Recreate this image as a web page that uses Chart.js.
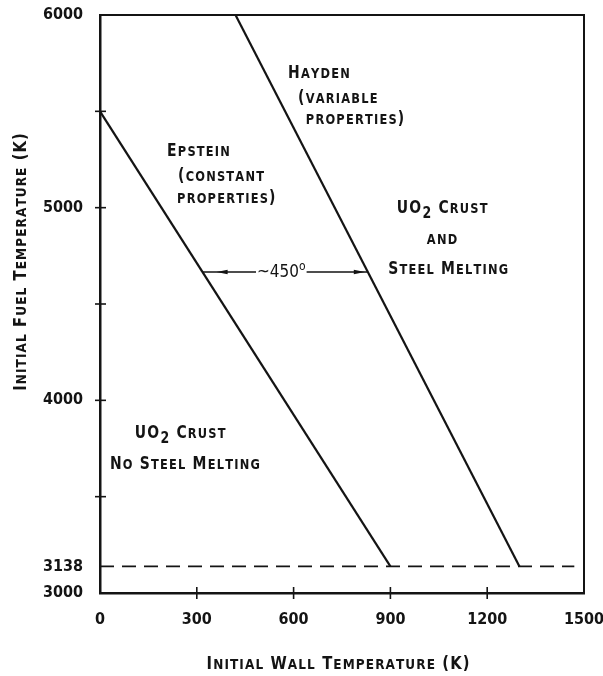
<!DOCTYPE html>
<html>
<head>
<meta charset="utf-8">
<script src="https://cdn.jsdelivr.net/npm/chart.js@4.4.1/dist/chart.umd.min.js"></script>
<style>
  html, body { margin: 0; padding: 0; background: #fff; }
  canvas { display: block; }
</style>
</head>
<body>
<canvas id="crustMap" width="603" height="676"></canvas>
<script>
// Initial wall temperature (K) -> initial fuel temperature (K)
const epsteinWall = [0, 900];
const epsteinFuel = [5500, 3138];
const haydenWall = [420, 1300];
const haydenFuel = [6000, 3138];
const meltWall = [0, 1470];
const meltFuel = [3138, 3138];

const xTickValues = [0, 300, 600, 900, 1200, 1500];
const yTickValues = [3000, 3138, 3500, 4000, 4500, 5000, 5500, 6000];
const yTickLabels = [3000, 3138, 4000, 5000, 6000];

// the "~450" gap marked between the two curves
const gapFuel = 4666;
const gapWall = [318, 830];

const INK = "#141414";
const LETTERING = "'DejaVu Sans', 'Liberation Sans', sans-serif";
const NUMBERS = "'DejaVu Sans Condensed', 'Liberation Sans Narrow', 'DejaVu Sans', sans-serif";

function toPoints(xs, ys) {
    return xs.map((x, i) => ({ x: x, y: ys[i] }));
}

// hand-lettered look: lowercase letters come out as small capitals, "_" marks a subscript
function drawCaps(ctx, text, x, y, big, opts) {
    opts = opts || {};
    const small = big * 0.82;
    const squeeze = opts.squeeze || 0.82;
    const gap = opts.gap === undefined ? 1.2 : opts.gap;
    const parts = [];
    for (let i = 0; i < text.length; i++) {
        let ch = text[i];
        if (ch === "_") {
            parts.push({ ch: text[++i], size: big * 0.9, dy: big * 0.3 });
            continue;
        }
        const isLower = ch !== ch.toUpperCase();
        parts.push({ ch: ch.toUpperCase(), size: isLower ? small : big, dy: 0 });
    }
    let w = 0;
    parts.forEach(p => {
        ctx.font = `bold ${p.size}px ${LETTERING}`;
        p.w = ctx.measureText(p.ch).width * squeeze;
        w += p.w + gap;
    });
    w -= gap;
    let cx = opts.align === "center" ? x - w / 2 : x;
    const base = y + big * 0.36;
    ctx.textAlign = "left";
    ctx.textBaseline = "alphabetic";
    ctx.fillStyle = INK;
    parts.forEach(p => {
        ctx.save();
        ctx.font = `bold ${p.size}px ${LETTERING}`;
        ctx.translate(cx, base + p.dy);
        ctx.scale(squeeze, 1);
        ctx.fillText(p.ch, 0, 0);
        ctx.restore();
        cx += p.w + gap;
    });
}

const whiteBackground = {
    id: "whiteBackground",
    beforeDraw(chart) {
        const ctx = chart.ctx;
        ctx.save();
        ctx.fillStyle = "#fff";
        ctx.fillRect(0, 0, chart.width, chart.height);
        ctx.restore();
    }
};

const figureInk = {
    id: "figureInk",
    afterDraw(chart) {
        const ctx = chart.ctx;
        const xs = chart.scales.x, ys = chart.scales.y;
        const area = chart.chartArea;
        ctx.save();
        ctx.strokeStyle = INK;
        ctx.lineCap = "butt";

        // top and right edges of the frame
        ctx.lineWidth = 2;
        ctx.beginPath();
        ctx.moveTo(area.left, area.top);
        ctx.lineTo(area.right, area.top);
        ctx.lineTo(area.right, area.bottom);
        ctx.stroke();

        // cross ticks straddling the axes
        ctx.lineWidth = 1.6;
        ys.ticks.forEach(t => {
            if (t.value === 3000 || t.value === 3138 || t.value === 6000) return;
            const py = ys.getPixelForValue(t.value);
            ctx.beginPath();
            ctx.moveTo(area.left - 5, py);
            ctx.lineTo(area.left + 6, py);
            ctx.stroke();
        });
        xs.ticks.forEach(t => {
            if (t.value === 0 || t.value === 1500) return;
            const px = xs.getPixelForValue(t.value);
            ctx.beginPath();
            ctx.moveTo(px, area.bottom - 6);
            ctx.lineTo(px, area.bottom + 6);
            ctx.stroke();
        });

        // ~450 gap arrow
        const gy = ys.getPixelForValue(gapFuel);
        const g0 = xs.getPixelForValue(gapWall[0]);
        const g1 = xs.getPixelForValue(gapWall[1]);
        ctx.font = `17px ${NUMBERS}`;
        const numW = ctx.measureText("~450").width;
        ctx.font = `12px ${NUMBERS}`;
        const degW = ctx.measureText("o").width;
        const tx = 257;
        ctx.lineWidth = 1.4;
        ctx.beginPath();
        ctx.moveTo(g0, gy);
        ctx.lineTo(tx - 1, gy);
        ctx.moveTo(tx + numW + degW + 1, gy);
        ctx.lineTo(g1, gy);
        ctx.stroke();
        ctx.fillStyle = INK;
        [[g0 + 14, -1], [g1 - 3, 1]].forEach(([tip, dir]) => {
            ctx.beginPath();
            ctx.moveTo(tip, gy);
            ctx.lineTo(tip - dir * 11, gy - 2.2);
            ctx.lineTo(tip - dir * 11, gy + 2.2);
            ctx.closePath();
            ctx.fill();
        });
        ctx.textAlign = "left";
        ctx.textBaseline = "middle";
        ctx.font = `17px ${NUMBERS}`;
        ctx.fillText("~450", tx, gy + 1);
        ctx.font = `12px ${NUMBERS}`;
        ctx.fillText("o", tx + numW, gy - 5);

        // region and curve notes, placed in data units
        const notes = [
            ["Hayden", 583, 5704],
            ["(variable", 614, 5574],
            ["properties)", 638, 5465],
            ["Epstein", 208, 5299],
            ["(constant", 242, 5170],
            ["properties)", 239, 5055],
            ["UO_2 Crust", 920, 5003],
            ["and", 1013, 4843],
            ["Steel Melting", 893, 4687],
            ["UO_2 Crust", 108, 3836],
            ["No Steel Melting", 31, 3675]
        ];
        notes.forEach(([txt, wx, fy]) => {
            drawCaps(ctx, txt, xs.getPixelForValue(wx), ys.getPixelForValue(fy), 17);
        });

        // axis titles
        drawCaps(ctx, "Initial Wall Temperature (K)", 338, 663, 18, { align: "center", gap: 1.1 });
        ctx.translate(20, 262);
        ctx.rotate(-Math.PI / 2);
        drawCaps(ctx, "Initial Fuel Temperature (K)", 0, 0, 18, { align: "center", gap: 1.1 });
        ctx.restore();
    }
};

const lineStyle = { borderColor: INK, pointRadius: 0, showLine: true, fill: false };

new Chart(document.getElementById("crustMap").getContext("2d"), {
    type: "scatter",
    data: {
        datasets: [
            Object.assign({ label: "Epstein", data: toPoints(epsteinWall, epsteinFuel), borderWidth: 2.2 }, lineStyle),
            Object.assign({ label: "Hayden", data: toPoints(haydenWall, haydenFuel), borderWidth: 2.2 }, lineStyle),
            Object.assign({ label: "3138 K", data: toPoints(meltWall, meltFuel), borderWidth: 1.6, borderDash: [14, 8] }, lineStyle)
        ]
    },
    options: {
        responsive: false,
        animation: false,
        layout: { padding: { left: 0, top: 15, right: 19, bottom: 0 } },
        plugins: { legend: { display: false }, tooltip: { enabled: false } },
        scales: {
            x: {
                type: "linear",
                min: 0,
                max: 1500,
                afterBuildTicks: s => { s.ticks = xTickValues.map(v => ({ value: v })); },
                afterFit: s => { s.height = 83; s.paddingLeft = 0; s.paddingRight = 0; },
                grid: { display: false, drawTicks: false },
                border: { display: true, color: INK, width: 2.5 },
                ticks: {
                    color: INK,
                    padding: 17,
                    maxRotation: 0,
                    font: { family: NUMBERS, size: 16, weight: "bold" },
                    callback: v => String(v)
                }
            },
            y: {
                type: "linear",
                min: 3000,
                max: 6000,
                afterBuildTicks: s => { s.ticks = yTickValues.map(v => ({ value: v })); },
                afterFit: s => { s.width = 100; s.paddingTop = 0; s.paddingBottom = 0; },
                grid: { display: false, drawTicks: false },
                border: { display: true, color: INK, width: 2.5 },
                ticks: {
                    color: INK,
                    padding: 17,
                    font: { family: NUMBERS, size: 16, weight: "bold" },
                    callback: v => yTickLabels.includes(v) ? String(v) : ""
                }
            }
        }
    },
    plugins: [whiteBackground, figureInk]
});
</script>
</body>
</html>
